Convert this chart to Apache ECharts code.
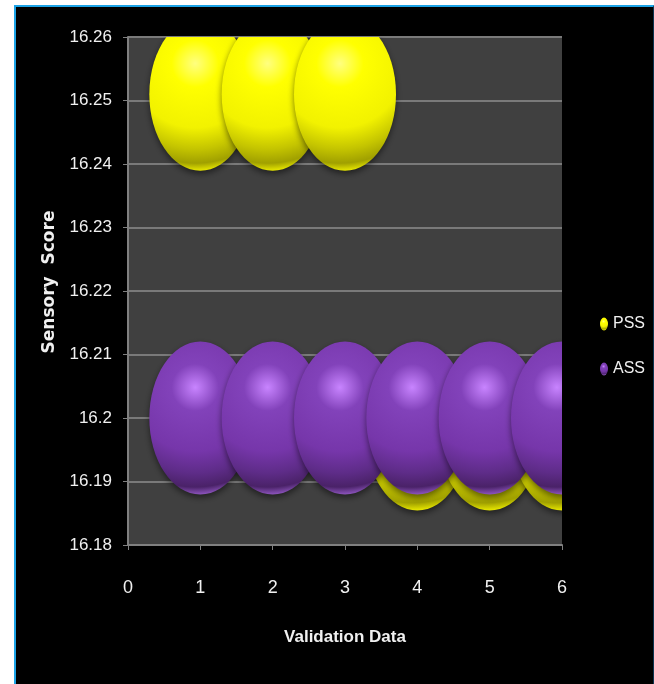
<!DOCTYPE html>
<html>
<head>
<meta charset="utf-8">
<script src="https://cdn.jsdelivr.net/npm/echarts@6/dist/echarts.min.js"></script>
<style>
  html, body { margin: 0; padding: 0; background: #fff; }
  #frame {
    position: absolute; left: 14px; top: 5px; width: 637px; height: 690px;
    background: #000;
    border-left: 2px solid #1ca3e6; border-top: 2px solid #1ca3e6; border-right: 1px solid #0d3550;
  }
  #chart { position: absolute; left: 0; top: 0; width: 654px; height: 684px; }
</style>
</head>
<body>
<div id="frame"></div>
<div id="chart"></div>
<script>
// validation data points (x) and sensory scores
const validation = [1, 2, 3, 4, 5, 6];
const pssScores = [16.251, 16.251, 16.251, 16.1975, 16.1975, 16.1975];
const assScores = [16.2, 16.2, 16.2, 16.2, 16.2, 16.2];
const yTicks = { min: 16.18, max: 16.26, step: 0.01 };
const xTicks = { min: 0, max: 6, step: 1 };

const FONT = "'Liberation Sans', Arial, sans-serif";
const ELLIPSE = 'path://M0,50 A50,50 0 1,1 100,50 A50,50 0 1,1 0,50 Z';

// 3d-ish shading for the bubbles
const ball = (c) => ({
  type: 'radial', x: 0.45, y: 0.3, r: 1.05,
  colorStops: [
    { offset: 0, color: c[0] },
    { offset: 0.22, color: c[1] },
    { offset: 0.6, color: c[2] },
    { offset: 0.8, color: c[3] },
    { offset: 0.93, color: c[4] },
    { offset: 1, color: c[5] }
  ]
});
const yellow = ['#ffff80', '#ffff00', '#f2f200', '#c4c400', '#a0a000', '#e6e600'];
const purple = ['#c884ff', '#8242ba', '#7636aa', '#5e2c88', '#4a2268', '#8c54bc'];

const bubble = (colors) => (params, api) => {
  const p = api.coord([api.value(0), api.value(1)]);
  return {
    type: 'ellipse',
    shape: { cx: p[0], cy: p[1], rx: 51, ry: 76.5 },
    style: {
      fill: ball(colors),
      shadowBlur: 6, shadowColor: 'rgba(0,0,0,0.5)', shadowOffsetY: 3
    }
  };
};

const chart = echarts.init(document.getElementById('chart'), null, { renderer: 'canvas' });

chart.setOption({
  backgroundColor: 'transparent',
  animation: false,
  grid: { left: 128, top: 37, width: 434, height: 508, show: true, backgroundColor: '#404040', borderWidth: 0 },
  legend: {
    orient: 'vertical', left: 595, top: 311, itemGap: 29,
    itemWidth: 8, itemHeight: 13, symbolKeepAspect: false,
    textStyle: { color: '#f0f0f0', fontFamily: FONT, fontSize: 16 },
    data: [
      { name: 'PSS', icon: ELLIPSE, itemStyle: { color: ball(yellow) } },
      { name: 'ASS', icon: ELLIPSE, itemStyle: { color: ball(purple) } }
    ]
  },
  xAxis: {
    type: 'value', min: xTicks.min, max: xTicks.max, interval: xTicks.step,
    name: 'Validation Data', nameLocation: 'middle', nameGap: 84,
    nameTextStyle: { color: '#f0f0f0', fontFamily: FONT, fontSize: 17, fontWeight: 'bold' },
    axisLine: { show: true, lineStyle: { color: '#808080', width: 2 } },
    axisTick: { show: true, length: 5, lineStyle: { color: '#808080' } },
    axisLabel: { color: '#f0f0f0', fontFamily: FONT, fontSize: 18, margin: 34 },
    splitLine: { show: false }
  },
  yAxis: {
    type: 'value', min: yTicks.min, max: yTicks.max, interval: yTicks.step,
    name: 'Sensory  Score', nameLocation: 'middle', nameGap: 70, nameRotate: 90,
    nameTextStyle: { color: '#f0f0f0', fontFamily: "'DejaVu Sans', sans-serif", fontSize: 17, fontWeight: 'bold', padding: [0, 0, 0, 18] },
    axisLine: { show: true, lineStyle: { color: '#808080', width: 2 } },
    axisTick: { show: true, length: 5, lineStyle: { color: '#808080' } },
    axisLabel: {
      color: '#f0f0f0', fontFamily: FONT, fontSize: 17, margin: 16,
      formatter: v => String(Number(v.toFixed(2)))
    },
    splitLine: { show: true, lineStyle: { color: '#7a7a7a', width: 2 } }
  },
  series: [
    {
      name: 'PSS', type: 'custom', clip: true,
      itemStyle: { color: '#ffff00' },
      encode: { x: 0, y: 1 },
      data: validation.map((x, i) => [x, pssScores[i]]),
      renderItem: bubble(yellow)
    },
    {
      name: 'ASS', type: 'custom', clip: true,
      itemStyle: { color: '#7f3cb6' },
      encode: { x: 0, y: 1 },
      data: validation.map((x, i) => [x, assScores[i]]),
      renderItem: bubble(purple)
    }
  ]
});
</script>
</body>
</html>
